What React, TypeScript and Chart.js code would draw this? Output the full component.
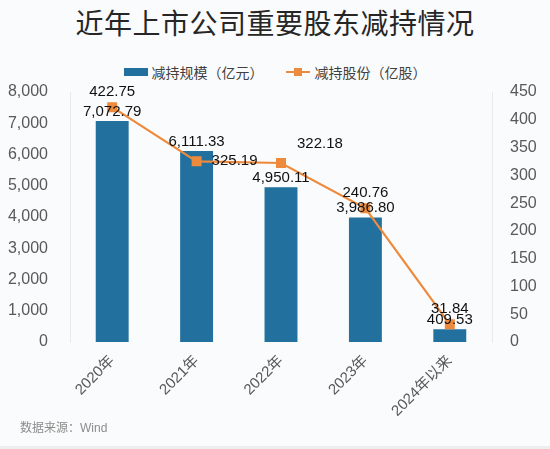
import { useEffect, useRef } from 'react';
import Chart from 'chart.js/auto';

const categories = ['2020年', '2021年', '2022年', '2023年', '2024年以来'];
const reduceAmount = [7072.79, 6111.33, 4950.11, 3986.8, 409.53];
const reduceShares = [422.75, 325.19, 322.18, 240.76, 31.84];
const leftTicks = [0, 1000, 2000, 3000, 4000, 5000, 6000, 7000, 8000];
const rightTicks = [0, 50, 100, 150, 200, 250, 300, 350, 400, 450];

const BAR = '#22709e';
const ORANGE = '#ee8a3c';
const FONT = '"Liberation Sans", "Noto Sans CJK SC", sans-serif';

const fmt = (v: number) =>
  v.toLocaleString('en-US', { minimumFractionDigits: 2, maximumFractionDigits: 2 });

// where each line label sits relative to its point
const linePlace = ['top', 'right', 'topRight', 'top', 'top'];

const labelPlugin = {
  id: 'valueLabels',
  afterDatasetsDraw(chart: any) {
    const ctx = chart.ctx;
    ctx.save();
    ctx.font = `15px ${FONT}`;
    ctx.fillStyle = '#111';
    const bars = chart.getDatasetMeta(0).data;
    bars.forEach((el: any, i: number) => {
      ctx.textAlign = 'center';
      ctx.textBaseline = 'bottom';
      ctx.fillText(fmt(reduceAmount[i]), el.x, el.y - 2);
    });
    const pts = chart.getDatasetMeta(1).data;
    pts.forEach((el: any, i: number) => {
      const p = linePlace[i];
      let x = el.x, y = el.y;
      if (p === 'top') { ctx.textAlign = 'center'; ctx.textBaseline = 'bottom'; y -= 8; }
      else if (p === 'right') { ctx.textAlign = 'left'; ctx.textBaseline = 'middle'; x += 15; }
      else { ctx.textAlign = 'left'; ctx.textBaseline = 'bottom'; x += 16; y -= 12; }
      ctx.fillText(fmt(reduceShares[i]), x, y);
    });
    ctx.restore();
  },
};

export default function App() {
  const canvasRef = useRef<HTMLCanvasElement>(null);
  const chartRef = useRef<Chart | null>(null);

  useEffect(() => {
    document.body.style.margin = '0';
    if (!canvasRef.current) return;
    const ctx = canvasRef.current.getContext('2d');
    if (!ctx) return;
    chartRef.current = new Chart(ctx, {
      type: 'bar',
      data: {
        labels: categories,
        datasets: [
          {
            type: 'bar',
            label: '减持规模（亿元）',
            data: reduceAmount,
            backgroundColor: BAR,
            yAxisID: 'y',
            barPercentage: 0.39,
            categoryPercentage: 1,
            order: 2,
          },
          {
            type: 'line',
            label: '减持股份（亿股）',
            data: reduceShares,
            borderColor: ORANGE,
            backgroundColor: ORANGE,
            borderWidth: 2.2,
            pointStyle: 'rect',
            pointRadius: 5.5,
            tension: 0,
            yAxisID: 'y1',
            order: 1,
          },
        ],
      },
      options: {
        animation: false,
        responsive: false,
        layout: { padding: { top: 92, left: 0, right: 0, bottom: 0 } },
        plugins: {
          legend: { display: false },
          title: { display: false },
          tooltip: { enabled: false },
        },
        scales: {
          x: {
            grid: { display: false },
            border: { display: false },
            ticks: {
              color: '#595959',
              font: { family: FONT, size: 15 },
              minRotation: 45,
              maxRotation: 45,
              padding: 2,
            },
            afterFit: (s: any) => { s.height = 107; },
          },
          y: {
            position: 'left',
            min: 0,
            max: 8000,
            afterBuildTicks: (s: any) => { s.ticks = leftTicks.map(v => ({ value: v })); },
            grid: { display: false },
            border: { display: true, color: '#e8eaec' },
            ticks: { color: '#595959', font: { family: FONT, size: 16 }, padding: 14 },
            afterFit: (s: any) => { s.width = 70; },
          },
          y1: {
            position: 'right',
            min: 0,
            max: 450,
            afterBuildTicks: (s: any) => { s.ticks = rightTicks.map(v => ({ value: v })); },
            grid: { display: false },
            border: { display: true, color: '#e8eaec' },
            ticks: { color: '#595959', font: { family: FONT, size: 16 }, padding: 10 },
            afterFit: (s: any) => { s.width = 58; },
          },
        },
      },
      plugins: [labelPlugin],
    });
    return () => {
      chartRef.current?.destroy();
    };
  }, []);

  return (
    <div style={{ position: 'relative', width: 550, height: 449, background: '#fafbfc', fontFamily: FONT, overflow: 'hidden' }}>
      <div style={{ position: 'absolute', top: 2, left: 0, width: 550, textAlign: 'center', fontSize: 28, color: '#262626', letterSpacing: 0.5 }}>
        近年上市公司重要股东减持情况
      </div>
      <div style={{ position: 'absolute', top: 62, left: 0, width: 550, display: 'flex', justifyContent: 'center', alignItems: 'center', fontSize: 14, color: '#404040' }}>
        <span style={{ display: 'inline-block', width: 24, height: 8, background: BAR, marginRight: 4 }} />
        <span>减持规模（亿元）</span>
        <span style={{ position: 'relative', display: 'inline-block', width: 24, height: 10, marginLeft: 22, marginRight: 5 }}>
          <span style={{ position: 'absolute', left: 0, top: 4, width: 24, height: 2, background: ORANGE }} />
          <span style={{ position: 'absolute', left: 8, top: 1, width: 8, height: 8, background: ORANGE }} />
        </span>
        <span>减持股份（亿股）</span>
      </div>
      <canvas ref={canvasRef} width={550} height={449} style={{ position: 'absolute', top: 0, left: 0 }} />
      <div style={{ position: 'absolute', left: 20, top: 418, fontSize: 12, color: '#8c8c8c' }}>数据来源：Wind</div>
      <div style={{ position: 'absolute', left: 0, bottom: 0, width: 550, height: 3, background: '#eceef0' }} />
    </div>
  );
}
